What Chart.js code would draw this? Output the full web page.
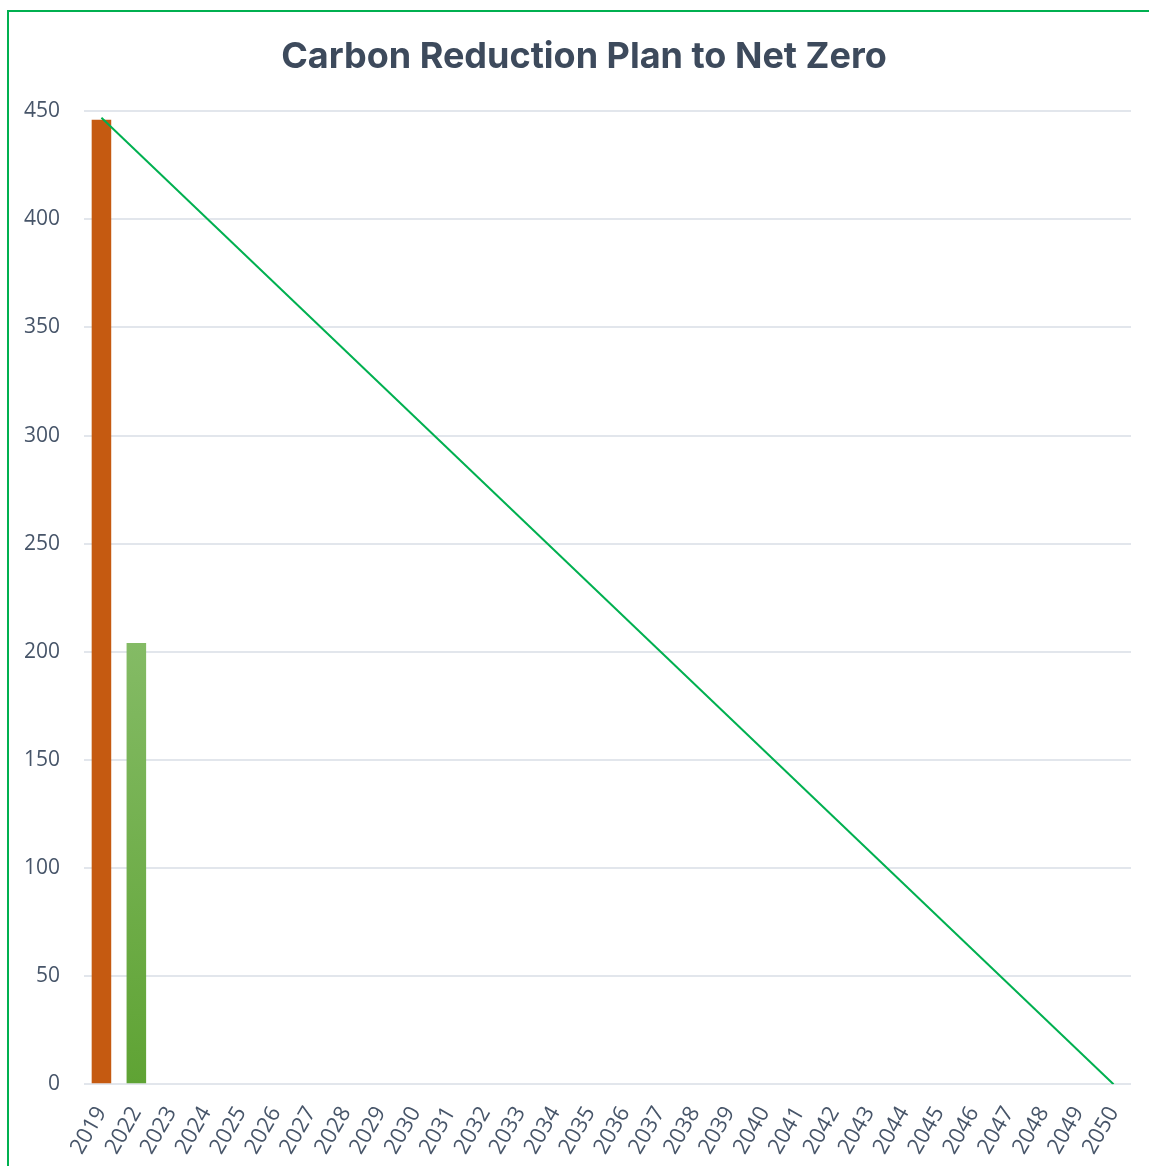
<!DOCTYPE html>
<html>
<head>
<meta charset="utf-8">
<script src="https://cdn.jsdelivr.net/npm/chart.js@4.4.0/dist/chart.umd.min.js"></script>
<style>
  html, body { margin: 0; padding: 0; background: #ffffff; overflow: hidden; }
  #frame { position: absolute; left: 7px; top: 10px; width: 1200px; height: 1200px; border: 2px solid #00b050; }
  #wrap { position: absolute; left: 0; top: 0; width: 1149px; height: 1166px; }
</style>
</head>
<body>
<div id="frame"></div>
<div id="wrap"><canvas id="c"></canvas></div>
<script>
const categories = ['2019','2022','2023','2024','2025','2026','2027','2028','2029','2030','2031','2032','2033','2034','2035','2036','2037','2038','2039','2040','2041','2042','2043','2044','2045','2046','2047','2048','2049','2050'];
const emissions = [446, 204, null, null, null, null, null, null, null, null, null, null, null, null, null, null, null, null, null, null, null, null, null, null, null, null, null, null, null, null];
const netZeroPath = [447, null, null, null, null, null, null, null, null, null, null, null, null, null, null, null, null, null, null, null, null, null, null, null, null, null, null, null, null, 0];
const yTicks = [0, 50, 100, 150, 200, 250, 300, 350, 400, 450];

const tickColor = '#475569';
const ctx = document.getElementById('c').getContext('2d');

function barColor(context) {
  if (context.dataIndex === 0) return '#c55a11';
  const chart = context.chart;
  const area = chart.chartArea;
  const ys = chart.scales && chart.scales.y;
  if (!area || !ys) return '#70ad47';
  const v = context.raw;
  const top = ys.getPixelForValue(v);
  if (!isFinite(top) || !isFinite(area.bottom) || top >= area.bottom) return '#70ad47';
  const g = chart.ctx.createLinearGradient(0, top, 0, area.bottom);
  g.addColorStop(0, '#84bb65');
  g.addColorStop(1, '#5fa334');
  return g;
}

new Chart(ctx, {
  data: {
    labels: categories,
    datasets: [
      {
        type: 'line',
        label: 'Net zero path',
        data: netZeroPath,
        borderColor: '#00b050',
        borderWidth: 2,
        pointRadius: 0,
        spanGaps: true,
        tension: 0,
        order: 0
      },
      {
        type: 'bar',
        label: 'Emissions',
        data: emissions,
        backgroundColor: barColor,
        barPercentage: 0.56,
        categoryPercentage: 1.0,
        order: 1
      }
    ]
  },
  options: {
    responsive: true,
    maintainAspectRatio: false,
    animation: false,
    layout: { padding: { left: 37, right: 18, top: 36, bottom: 2 } },
    plugins: {
      legend: { display: false },
      tooltip: { enabled: false },
      title: {
        display: true,
        text: 'Carbon Reduction Plan to Net Zero',
        color: '#3d4a5c',
        font: { family: 'Inter', size: 36, weight: 'bold' },
        padding: { top: 0, bottom: 32 }
      }
    },
    scales: {
      x: {
        grid: { display: false },
        border: { display: false },
        afterFit: (axis) => { axis.height = axis.height - 5; },
        ticks: {
          color: tickColor,
          font: { family: 'Open Sans', size: 22 },
          minRotation: 60,
          maxRotation: 60,
          autoSkip: false,
          padding: 10
        }
      },
      y: {
        min: 0,
        max: 450,
        afterBuildTicks: (axis) => { axis.ticks = yTicks.map(v => ({ value: v })); },
        afterFit: (axis) => { axis.width = 47; },
        grid: { color: '#e2e6ec', lineWidth: 2, drawTicks: false },
        border: { display: false },
        ticks: {
          color: tickColor,
          font: { family: 'Open Sans', size: 21 },
          mirror: true,
          crossAlign: 'far',
          padding: -60
        }
      }
    }
  }
});
</script>
</body>
</html>
